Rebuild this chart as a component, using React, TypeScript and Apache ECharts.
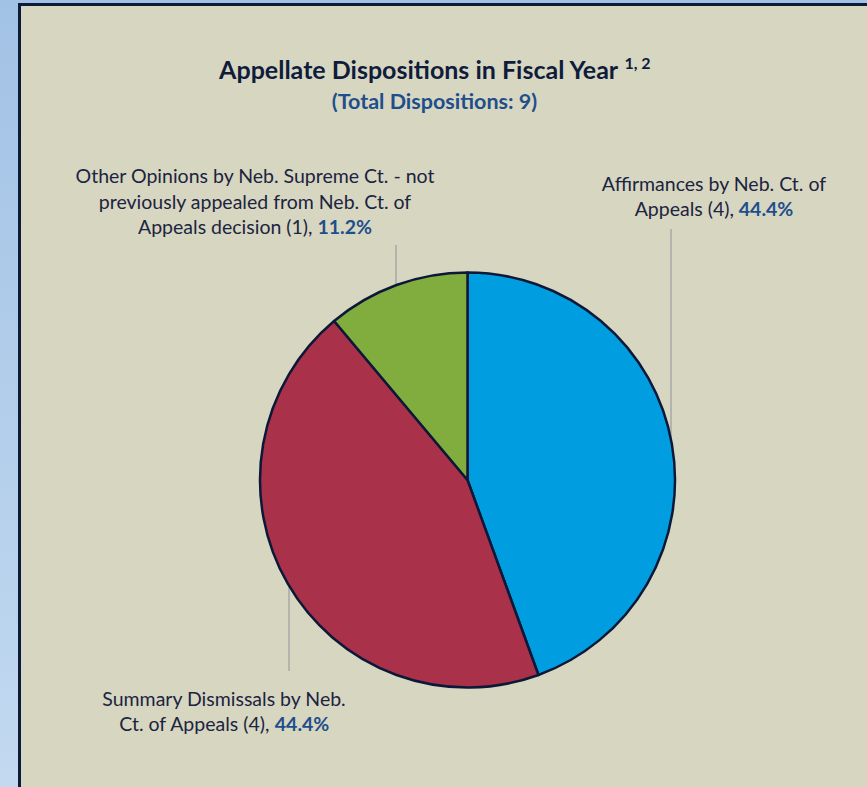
import React, { useEffect, useRef } from "react";
import * as echarts from "echarts";

const categories = [
  "Affirmances by Neb. Ct. of Appeals",
  "Summary Dismissals by Neb. Ct. of Appeals",
  "Other Opinions by Neb. Supreme Ct. - not previously appealed from Neb. Ct. of Appeals decision",
];
const labelTextLines = [
  ["Affirmances by Neb. Ct. of", "Appeals (4), "],
  ["Summary Dismissals by Neb.", "Ct. of Appeals (4), "],
  ["Other Opinions by Neb. Supreme Ct. - not", "previously appealed from Neb. Ct. of", "Appeals decision (1), "],
];
const counts = [4, 4, 1];
const percentLabels = ["44.4%", "44.4%", "11.2%"];
const sliceColors = ["#009ee1", "#a9314a", "#80ad3e"];
const titleText = "Appellate Dispositions in Fiscal Year";
const titleSup = "1, 2";
const subtitleText = "(Total Dispositions: 9)";

const FONT = "Lato, 'Open Sans', sans-serif";

export default function App() {
  const ref = useRef<HTMLDivElement>(null);
  useEffect(() => {
    if (!ref.current) return;
    const chart = echarts.init(ref.current, undefined, { renderer: "svg" });
    const labelPos = [
      { x: 714, y: 196, line: [[671, 443], [671, 330], [671, 229]] },
      { x: 224, y: 711, line: [[289, 584], [289, 630], [289, 671]] },
      { x: 255, y: 201, line: [[396, 287], [396, 265], [396, 245]] },
    ];
    chart.setOption({
      animation: false,
      backgroundColor: "transparent",
      graphic: [
        {
          type: "rect",
          z: -10,
          shape: { x: 19.5, y: 4.5, width: 900, height: 900 },
          style: { fill: "#d7d6c1", stroke: "#0d1a3a", lineWidth: 3 },
          silent: true,
        },
        {
          type: "text",
          x: 434.5,
          y: 69,
          style: {
            text: `{t|${titleText} }{s|${titleSup}}`,
            align: "center",
            verticalAlign: "middle",
            rich: {
              t: { fontFamily: FONT, fontWeight: "bold", fontSize: 25, lineHeight: 30, fill: "#0f1c3c" },
              s: { fontFamily: FONT, fontWeight: "bold", fontSize: 16, lineHeight: 16, verticalAlign: "top", fill: "#0f1c3c" },
            },
          },
        },
        {
          type: "text",
          x: 434.5,
          y: 101,
          style: {
            text: subtitleText,
            align: "center",
            verticalAlign: "middle",
            fontFamily: FONT,
            fontWeight: "bold",
            fontSize: 21.5,
            fill: "#1f4e8c",
          },
        },
      ],
      series: [
        {
          type: "pie",
          center: [467.5, 480],
          radius: 207.5,
          startAngle: 90,
          clockwise: true,
          avoidLabelOverlap: false,
          itemStyle: { borderColor: "#0c1838", borderWidth: 2.5 },
          emphasis: { disabled: true },
          data: categories.map((name, i) => ({
            name,
            value: counts[i],
            itemStyle: { color: sliceColors[i] },
          })),
          label: {
            show: true,
            position: "outside",
            formatter: (p: any) => {
              const lines = labelTextLines[p.dataIndex];
              const head = lines.slice(0, -1).map((l) => `{n|${l}}`).join("\n");
              return (head ? head + "\n" : "") + `{n|${lines[lines.length - 1]}}{p|${percentLabels[p.dataIndex]}}`;
            },
            rich: {
              n: { fontFamily: FONT, fontSize: 19.5, lineHeight: 25.5, color: "#1b2440" },
              p: { fontFamily: FONT, fontSize: 19.5, lineHeight: 25.5, fontWeight: "bold", color: "#1f4e8c" },
            },
            align: "center",
          },
          labelLine: {
            show: true,
            lineStyle: { color: "#a9a9a9", width: 1.5 },
          },
          labelLayout: (params: any) => {
            const pos = labelPos[params.dataIndex];
            return {
              x: pos.x,
              y: pos.y,
              align: "center",
              verticalAlign: "middle",
              labelLinePoints: pos.line,
            };
          },
        },
      ],
    });
    return () => chart.dispose();
  }, []);
  return (
    <div
      style={{
        position: "fixed",
        left: 0,
        top: 0,
        width: 867,
        height: 787,
        background: "linear-gradient(to bottom, #a2c2e5, #c2d9f0)",
      }}
    >
      <div ref={ref} style={{ width: 867, height: 787 }} />
    </div>
  );
}
